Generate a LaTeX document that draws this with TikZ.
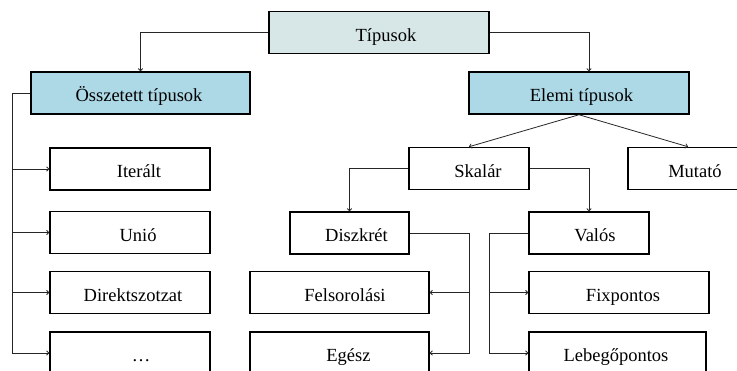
\documentclass[tikz,border=0pt]{standalone}
\usepackage{fontspec}
\setmainfont{Liberation Serif}
\usetikzlibrary{arrows.meta}
\definecolor{rootfill}{HTML}{D7E6E6}
\definecolor{groupfill}{HTML}{ADD8E6}
\newcommand\txtoffset{14pt}
\begin{document}
\begin{tikzpicture}[x=1pt,y=-1pt,
  tx/.code={\renewcommand\txtoffset{#1}},
  box/.style={draw=black,line width=1.5pt,rectangle,minimum height=42pt,
    inner sep=0pt,font=\fontsize{18.5}{21}\selectfont,tx=14pt,
    text height=18pt,text depth=0pt,
    execute at begin node={\hspace*{\txtoffset}}},
  conn/.style={line width=0.8pt,draw=black!85},
  arr/.style={conn,-{To[length=3pt,width=5pt]}}]
\useasboundingbox (0,0) rectangle (737,371);
\clip (0,0) rectangle (737,371);
% top levels
\node[box,fill=rootfill,minimum width=220pt] (tip) at (379,32.5) {Típusok};
\node[box,fill=groupfill,minimum width=219pt,tx=-3pt] (ossz) at (140.5,93) {Összetett típusok};
\node[box,fill=groupfill,minimum width=220pt,tx=5pt] (elemi) at (579,93) {Elemi típusok};
% composite types
\node[box,minimum width=160pt,tx=18pt] (iter) at (130,169) {Iterált};
\node[box,minimum width=160pt,tx=16pt] (unio) at (130,232.5) {Unió};
\node[box,minimum width=160pt,tx=6pt] (direkt) at (130,292.5) {Direktszotzat};
\node[box,minimum width=160pt,tx=22pt] (dots) at (130,353) {\dots};
% elementary types
\node[box,minimum width=120pt,tx=18pt] (skalar) at (469,168.5) {Skalár};
\node[box,minimum width=120pt] (mutato) at (688,168.5) {Mutató};
\node[box,minimum width=119pt] (diszkret) at (349.5,233) {Diszkrét};
\node[box,minimum width=120pt,tx=12pt] (valos) at (589,233) {Valós};
\node[box,minimum width=179pt,tx=11pt] (felsor) at (339.5,292.5) {Felsorolási};
\node[box,minimum width=179pt,tx=18pt] (egesz) at (339.5,353) {Egész};
\node[box,minimum width=180pt,tx=8pt] (fix) at (619,292.5) {Fixpontos};
\node[box,minimum width=177pt,tx=-3pt] (lebego) at (617.5,353) {Lebegőpontos};
% spine coordinates
\coordinate (lspine) at (12,93);
\coordinate (dspine) at (469,233);
\coordinate (vspine) at (489,233);
% connectors from the root
\draw[arr] (tip.west) -| (ossz.north);
\draw[arr] (tip.east) -| ([xshift=10pt]elemi.north);
% composite branch
\draw[conn] (ossz.west) -- (lspine) |- (dots.west);
\draw[arr] (lspine |- iter.west) -- (iter.west);
\draw[arr] (lspine |- unio.west) -- (unio.west);
\draw[arr] (lspine |- direkt.west) -- (direkt.west);
\draw[arr] (lspine |- dots.west) -- (dots.west);
% elementary branch
\draw[arr] (elemi.south) -- (skalar.north);
\draw[arr] (elemi.south) -- (mutato.north);
\draw[arr] (skalar.west) -| (diszkret.north);
\draw[arr] (skalar.east) -| (valos.north);
\draw[conn] (diszkret.east) -- (dspine) |- (egesz.east);
\draw[arr] (dspine |- felsor.east) -- (felsor.east);
\draw[arr] (dspine |- egesz.east) -- (egesz.east);
\draw[conn] (valos.west) -- (vspine) |- (lebego.west);
\draw[arr] (vspine |- fix.west) -- (fix.west);
\draw[arr] (vspine |- lebego.west) -- (lebego.west);
\end{tikzpicture}
\end{document}
